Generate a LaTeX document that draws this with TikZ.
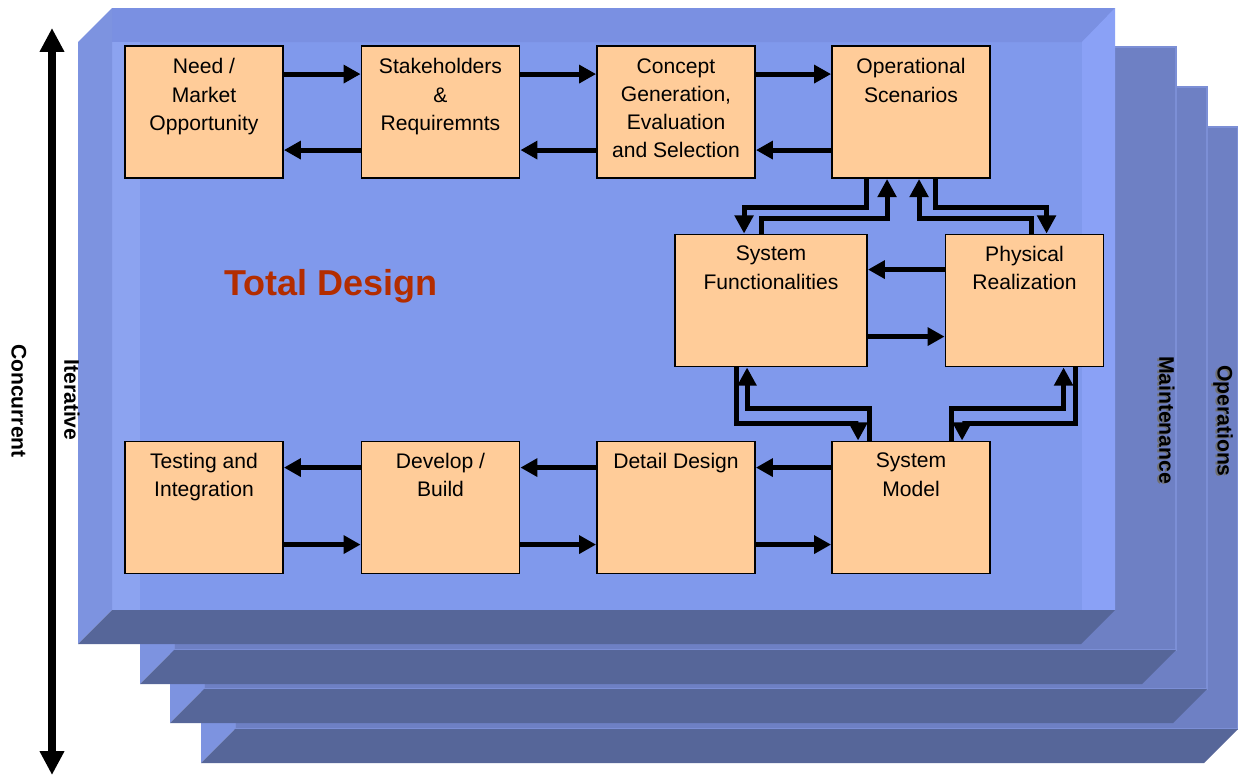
\documentclass[tikz,border=0pt]{standalone}
\usepackage{fontspec}
\setmainfont{Liberation Sans}
\usetikzlibrary{arrows.meta,calc}

\begin{document}
\begin{tikzpicture}[
  x=0.025cm,y=-0.025cm,
  stage/.style={draw=black,line width=1.3pt,fill=stageFill,minimum width=#1,minimum height=3.3cm,inner sep=0pt},
  stage/.default=3.95cm,
  stagetext/.style={anchor=north,inner sep=0pt,align=center,font=\fontsize{15}{20}\selectfont},
  arr/.style={-{Triangle[length=12pt,width=12.5pt]},line width=3.5pt},
  elbow/.style={-{Triangle[length=13pt,width=13pt]},line width=3.5pt},
  sidelab/.style={rotate=-90,inner sep=0pt,font=\fontsize{15}{18}\bfseries\selectfont},
  slabface/.style={fill=#1,draw=none},
]
\definecolor{stageFill}{HTML}{FFCC99}
\definecolor{backFace}{HTML}{6E80C4}
\definecolor{backEdge}{HTML}{7C8FD6}
\definecolor{sideFace}{HTML}{7D93E0}
\definecolor{bottomFace}{HTML}{566699}
\definecolor{frontFace}{HTML}{8099EC}
\definecolor{frontTop}{HTML}{7A90E2}
\definecolor{frontLeft}{HTML}{8CA3F0}
\definecolor{frontRight}{HTML}{8AA1F6}
\definecolor{titleRed}{HTML}{B32D00}
\definecolor{shadowGray}{HTML}{707070}

\useasboundingbox (0,0) rectangle (1238,776);
\fill[white] (0,0) rectangle (1238,776);

% stacked slabs, back to front
\fill[slabface=backFace,draw=backEdge,line width=1pt] (235,127) rectangle (1238,729);
\fill[slabface=sideFace] (235,127) -- (235,729) -- (201,763) -- (201,161) -- cycle;
\fill[slabface=bottomFace] (235,729) -- (1238,729) -- (1204,763) -- (201,763) -- cycle;

\fill[slabface=backFace,draw=backEdge,line width=1pt] (204,87) rectangle (1207,689);
\fill[slabface=sideFace] (204,87) -- (204,689) -- (170,723) -- (170,121) -- cycle;
\fill[slabface=bottomFace] (204,689) -- (1207,689) -- (1173,723) -- (170,723) -- cycle;

\fill[slabface=backFace,draw=backEdge,line width=1pt] (174,47) rectangle (1176,650);
\fill[slabface=sideFace] (174,47) -- (174,650) -- (140,684) -- (140,81) -- cycle;
\fill[slabface=bottomFace] (174,650) -- (1176,650) -- (1142,684) -- (140,684) -- cycle;

\fill[slabface=frontFace] (112,8) rectangle (1115,610);
\fill[slabface=frontTop] (112,8) -- (1115,8) -- (1082,42) -- (112,42) -- cycle;
\fill[slabface=frontLeft] (112,42) rectangle (140,610);
\fill[slabface=frontRight] (1082,42) -- (1115,8) -- (1115,610) -- (1082,610) -- cycle;
\fill[slabface=sideFace] (112,8) -- (112,610) -- (78,644) -- (78,42) -- cycle;
\fill[slabface=bottomFace] (112,610) -- (1115,610) -- (1081,644) -- (78,644) -- cycle;

\coordinate (ctop) at (52,28);
\coordinate (cbot) at (52,775);
\draw[{Triangle[length=17pt,width=16.5pt]}-{Triangle[length=17pt,width=16.5pt]},line width=5pt] (ctop) -- (cbot);

\node[sidelab] (concurrent) at (19,401) {Concurrent};
\node[sidelab] (iterative) at (72,400) {Iterative};
\node[sidelab,text=shadowGray] (maintshadow) at (1165,421) {Maintenance};
\node[sidelab] (maint) at (1167,420) {Maintenance};
\node[sidelab,text=shadowGray] (opershadow) at (1221,422) {Operations};
\node[sidelab] (oper) at (1223,421) {Operations};

\node[anchor=base,inner sep=0pt,text=titleRed,font=\fontsize{25.6}{30}\bfseries\selectfont] (total) at (331,295) {Total Design};

\node[stage] (need) at (204,112) {};
\node[stage] (stake) at (440.5,112) {};
\node[stage] (concept) at (676,112) {};
\node[stage] (opscen) at (911,112) {};
\node[stage=4.8cm] (sysfun) at (771,300.5) {};
\node[stage] (physreal) at (1024.5,300.5) {};
\node[stage] (test) at (204,507.5) {};
\node[stage] (build) at (440.5,507.5) {};
\node[stage] (detail) at (676,507.5) {};
\node[stage] (sysmod) at (911,507.5) {};

\node[stagetext] (need-t) at ([yshift=-9.5pt]need.north) {Need /\\Market\\Opportunity};
\node[stagetext] (stake-t) at ([yshift=-9.5pt]stake.north) {Stakeholders\\\&\\Requiremnts};
\node[stagetext] (concept-t) at ([yshift=-9.5pt]concept.north) {Concept\\Generation,\\Evaluation\\and Selection};
\node[stagetext] (opscen-t) at ([yshift=-9.5pt]opscen.north) {Operational\\Scenarios};
\node[stagetext] (sysfun-t) at ([yshift=-8.8pt]sysfun.north) {System\\Functionalities};
\node[stagetext] (physreal-t) at ([yshift=-8.8pt]physreal.north) {Physical\\Realization};
\node[stagetext] (test-t) at ([yshift=-8.8pt]test.north) {Testing and\\Integration};
\node[stagetext] (build-t) at ([yshift=-8.8pt]build.north) {Develop /\\Build};
\node[stagetext] (detail-t) at ([yshift=-8.8pt]detail.north) {Detail Design};
\node[stagetext] (sysmod-t) at ([yshift=-8.8pt]sysmod.north) {System\\Model};

\draw[arr] ($(need.north east)+(0,29)$) -- ($(stake.north west)+(0,29)$);
\draw[arr] ($(stake.north east)+(0,29)$) -- ($(concept.north west)+(0,29)$);
\draw[arr] ($(concept.north east)+(0,29)$) -- ($(opscen.north west)+(0,29)$);
\draw[arr] ($(stake.north west)+(0,105)$) -- ($(need.north east)+(0,105)$);
\draw[arr] ($(concept.north west)+(0,105)$) -- ($(stake.north east)+(0,105)$);
\draw[arr] ($(opscen.north west)+(0,105)$) -- ($(concept.north east)+(0,105)$);

\draw[arr] ($(physreal.north west)+(0,36)$) -- ($(sysfun.north east)+(0,36)$);
\draw[arr] ($(sysfun.north east)+(0,103)$) -- ($(physreal.north west)+(0,103)$);

\draw[arr] ($(sysmod.north west)+(0,27)$) -- ($(detail.north east)+(0,27)$);
\draw[arr] ($(detail.north west)+(0,27)$) -- ($(build.north east)+(0,27)$);
\draw[arr] ($(build.north west)+(0,27)$) -- ($(test.north east)+(0,27)$);
\draw[arr] ($(test.north east)+(0,104)$) -- ($(build.north west)+(0,104)$);
\draw[arr] ($(build.north east)+(0,104)$) -- ($(detail.north west)+(0,104)$);
\draw[arr] ($(detail.north east)+(0,104)$) -- ($(sysmod.north west)+(0,104)$);

\draw[elbow] ($(opscen.south west)+(35,0)$) -- ++(0,29) -| ($(sysfun.north west)+(70,0)$);
\draw[elbow] ($(sysfun.north west)+(87,0)$) -- ++(0,-15) -| ($(opscen.south west)+(56,0)$);
\draw[elbow] ($(physreal.north west)+(87,0)$) -- ++(0,-15) -| ($(opscen.south west)+(88,0)$);
\draw[elbow] ($(opscen.south west)+(104,0)$) -- ++(0,29) -| ($(physreal.north west)+(102,0)$);

\draw[elbow] ($(sysfun.south west)+(62,0)$) -- ++(0,56) -| ($(sysmod.north west)+(27,0)$);
\draw[elbow] ($(sysmod.north west)+(38,0)$) -- ++(0,-32) -| ($(sysfun.south west)+(73,0)$);
\draw[elbow] ($(sysmod.north west)+(120,0)$) -- ++(0,-32) -| ($(physreal.south west)+(119,0)$);
\draw[elbow] ($(physreal.south west)+(131,0)$) -- ++(0,56) -| ($(sysmod.north west)+(131,0)$);
\end{tikzpicture}
\end{document}
